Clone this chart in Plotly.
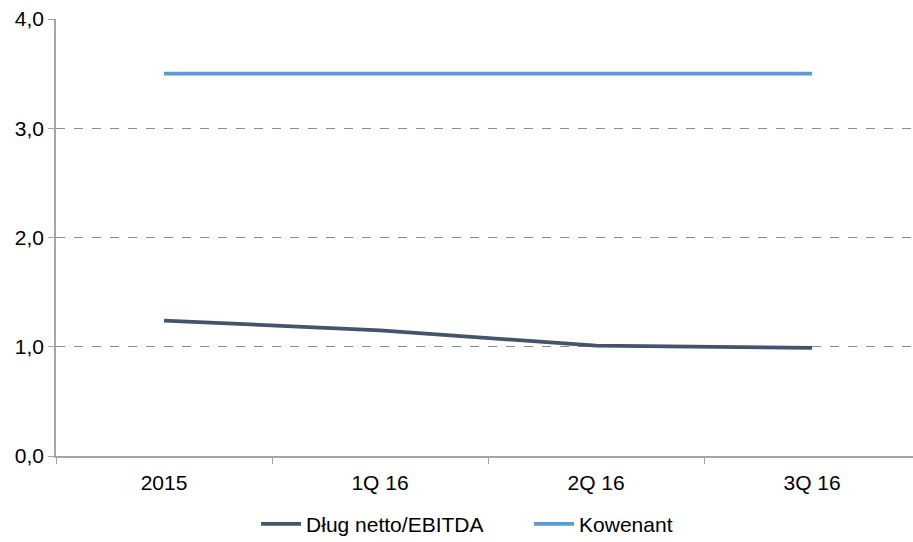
import plotly.graph_objects as go

categories = ["2015", "1Q 16", "2Q 16", "3Q 16"]
dlug = [1.24, 1.15, 1.01, 0.99]
kowenant = [3.5, 3.5, 3.5, 3.5]

fig = go.Figure()
fig.add_trace(go.Scatter(x=categories, y=dlug, mode="lines", name="Dług netto/EBITDA",
                         line=dict(color="#44546A", width=3.75)))
fig.add_trace(go.Scatter(x=categories, y=kowenant, mode="lines", name="Kowenant",
                         line=dict(color="#5B9BD5", width=3.75)))

fig.update_layout(
    width=913, height=542,
    margin=dict(l=56, r=0, t=19, b=86),
    paper_bgcolor="white", plot_bgcolor="white",
    font=dict(family="Liberation Sans, Arial", size=21, color="#000000"),
    separators=",.",
    showlegend=True,
    legend=dict(orientation="h", x=0.552, xanchor="center",
                yref="container", y=0.033, yanchor="middle",
                font=dict(size=21), itemwidth=40, entrywidth=218),
)
fig.update_xaxes(type="category", range=[-0.5, 3.467], showgrid=False, automargin=False,
                 showline=True, linecolor="#A6A6A6", linewidth=1.5,
                 ticks="outside", tickson="boundaries", ticklen=6, tickcolor="#A6A6A6",
                 ticklabelstandoff=7, tickfont=dict(size=21))
fig.update_yaxes(range=[0, 4], dtick=1, tickformat=".1f", automargin=False,
                 showgrid=True, gridcolor="#8C8C8C", griddash="dash", gridwidth=1,
                 showline=True, linecolor="#A6A6A6", linewidth=1.5,
                 ticks="outside", ticklen=6, tickcolor="#A6A6A6",
                 zeroline=False, tickfont=dict(size=21))

fig.write_html("out.html")
